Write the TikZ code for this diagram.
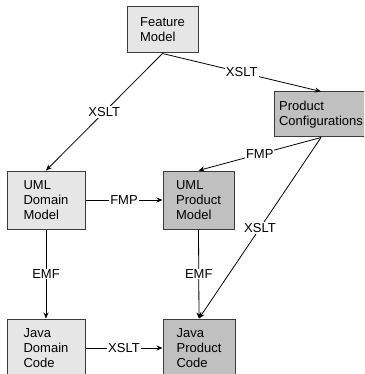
\documentclass[tikz,border=0pt]{standalone}
\usepackage{fontspec}
\setmainfont{Liberation Sans}
\usetikzlibrary{arrows.meta}
\definecolor{lightbox}{RGB}{230,230,230}
\definecolor{darkbox}{RGB}{192,192,192}
\definecolor{boxline}{RGB}{60,60,60}
\begin{document}
\begin{tikzpicture}[x=1pt,y=-1pt,
  every node/.style={font=\fontsize{13}{15}\selectfont},
  box/.style={draw=boxline, line width=1pt, align=left, inner sep=0pt, anchor=center},
  lbox/.style={box, fill=lightbox},
  dbox/.style={box, fill=darkbox},
  conn/.style={draw=black, line width=0.8pt, -{Stealth[length=6pt,width=5pt]}},
  lab/.style={fill=white, inner sep=1pt}]
\clip (0,0) rectangle (364,374);
\useasboundingbox (0,0) rectangle (364,374);
\node[lbox, minimum width=71pt, minimum height=46pt] (fm) at (162.5,30) {Feature\\Model};
\node[dbox, minimum width=94pt, minimum height=45pt] (pc) at (321,114.5) {Product\\Configurations};
\node[lbox, minimum width=78pt, minimum height=58pt] (udm) at (46,200) {UML\\Domain\\Model};
\node[dbox, minimum width=71pt, minimum height=58pt] (upm) at (198.5,200) {UML\\Product\\Model};
\node[lbox, minimum width=78pt, minimum height=58pt] (jdc) at (46,348) {Java\\Domain\\Code};
\node[dbox, minimum width=72pt, minimum height=58pt] (jpc) at (199,348) {Java\\Product\\Code};
\draw[conn] (fm.south) -- node[lab] {XSLT} (udm.north);
\draw[conn] (fm.south) -- node[lab] {XSLT} (pc.north);
\draw[conn] (pc.south) -- node[lab] {FMP} (upm.north);
\draw[conn] (pc.south) -- node[lab] {XSLT} (jpc.north);
\draw[conn] (udm.east) -- node[lab] {FMP} (upm.west);
\draw[conn] (udm.south) -- node[lab] {EMF} (jdc.north);
\draw[conn] (upm.south) -- node[lab] {EMF} (jpc.north);
\draw[conn] (jdc.east) -- node[lab] {XSLT} (jpc.west);
\end{tikzpicture}
\end{document}
